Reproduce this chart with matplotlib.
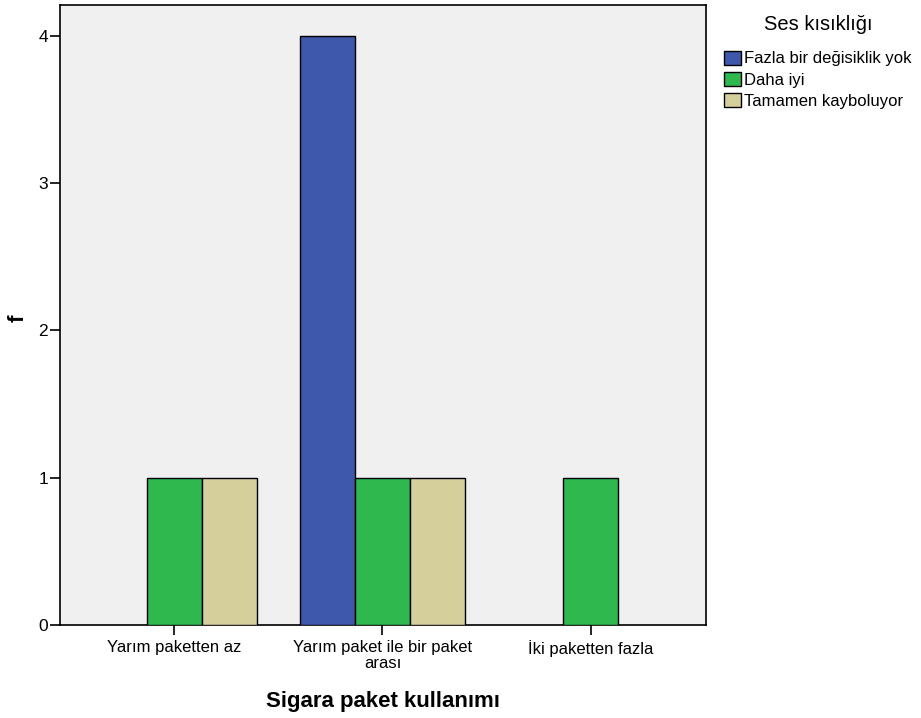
import matplotlib
matplotlib.use("Agg")
import matplotlib.pyplot as plt
import numpy as np

plt.rcParams['font.family'] = ['Liberation Sans', 'DejaVu Sans']

categories = ["Yarım paketten az", "Yarım paket ile bir paket\narası", "İki paketten fazla"]
series_names = ["Fazla bir değisiklik yok", "Daha iyi", "Tamamen kayboluyor"]
values = {
    "Fazla bir değisiklik yok": [0, 4, 0],
    "Daha iyi": [1, 1, 1],
    "Tamamen kayboluyor": [1, 1, 0],
}
colors = ["#3E58AC", "#2EB84D", "#D5D09B"]
y_ticks = [0, 1, 2, 3, 4]

fig = plt.figure(figsize=(9.21, 7.18), dpi=100)
ax = fig.add_axes([60 / 921, 93 / 718, 646 / 921, 620 / 718])
ax.set_facecolor("#F0F0F0")

x = np.arange(len(categories))
width = 0.264
handles = []
for i, (name, col) in enumerate(zip(series_names, colors)):
    vals = np.array(values[name], dtype=float)
    offs = (i - 1) * width
    mask = vals > 0
    b = ax.bar(x[mask] + offs, vals[mask], width=width, color=col,
               edgecolor="black", linewidth=1.0, label=name, zorder=3)
    handles.append(b)

ax.set_xlim(-0.547, 2.552)
ax.set_ylim(0, 4.21)
ax.set_yticks(y_ticks)
ax.set_xticks(x)
ax.set_xticklabels(categories, fontsize=12, linespacing=1.1)
ax.tick_params(axis="y", labelsize=12.5, length=7.5, width=1.2, direction="out", pad=1)
ax.tick_params(axis="x", length=7, width=1.2, direction="out", pad=4)
for s in ax.spines.values():
    s.set_linewidth(1.2)

ax.set_xlabel("Sigara paket kullanımı", fontsize=16, fontweight="bold", labelpad=14)
fig.text(18 / 921, 1 - 318 / 718, "f", rotation=90, fontsize=16, fontweight="bold",
         ha="center", va="center")

leg = fig.legend(handles=handles, labels=series_names, title="Ses kısıklığı",
                 loc="upper left", bbox_to_anchor=(724 / 921, 1 - 15 / 718),
                 frameon=False, fontsize=12, title_fontsize=14.5,
                 handlelength=1.0, handleheight=0.9, handletextpad=0.2,
                 labelspacing=0.33, borderaxespad=0, borderpad=0)
leg._legend_box.align = "center"
leg._legend_box.sep = 12

fig.savefig("out.png", dpi=100)
